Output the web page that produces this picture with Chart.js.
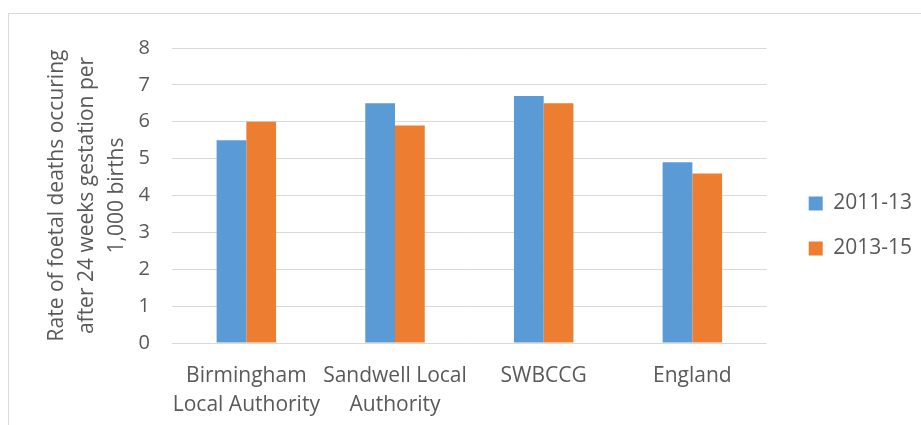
<!DOCTYPE html>
<html>
<head>
<meta charset="utf-8">
<script src="https://cdn.jsdelivr.net/npm/chart.js@4/dist/chart.umd.min.js"></script>
<style>
    html, body { margin: 0; padding: 0; background: #fff; }
    #frame {
        position: absolute; left: 8px; top: 13px; width: 913px; height: 412px;
        border-top: 1px solid #d9d9d9; border-left: 1px solid #d9d9d9; box-sizing: border-box;
    }
    #wrap { position: absolute; left: 9px; top: 14px; width: 912px; height: 411px; }
</style>
</head>
<body>
<div id="frame"></div>
<div id="wrap"><canvas id="chart"></canvas></div>
<script>
// Chart data
const categories = [['Birmingham', 'Local Authority'], ['Sandwell Local', 'Authority'], 'SWBCCG', 'England'];
const seriesNames = ['2011-13', '2013-15'];
const rates2011 = [5.5, 6.5, 6.7, 4.9];
const rates2013 = [6.0, 5.9, 6.5, 4.6];
const yMin = 0;
const yMax = 8;
const yStep = 1;
const yTitle = ['Rate of foetal deaths occuring', 'after 24 weeks gestation per', '1,000 births'];

const textColor = '#595959';
const gridColor = '#d9d9d9';
const fontFamily = '"Open Sans", sans-serif';

// Excel leaves a wider gap between plot and legend than Chart.js does,
// so nudge the legend box after layout
const legendNudge = {
    id: 'legendNudge',
    afterLayout(chart) {
        const lg = chart.legend;
        if (!lg) return;
        const dx = 18, dy = -8;
        lg.left += dx; lg.right += dx;
        lg.top += dy; lg.bottom += dy;
    }
};

const ctx = document.getElementById('chart').getContext('2d');

new Chart(ctx, {
    type: 'bar',
    data: {
        labels: categories,
        datasets: [{
            label: seriesNames[0],
            data: rates2011,
            backgroundColor: '#5b9bd5',
            categoryPercentage: 0.4,
            barPercentage: 1.0
        }, {
            label: seriesNames[1],
            data: rates2013,
            backgroundColor: '#ed7d31',
            categoryPercentage: 0.4,
            barPercentage: 1.0
        }]
    },
    options: {
        responsive: true,
        maintainAspectRatio: false,
        animation: false,
        layout: {
            padding: { top: 29, right: 17, bottom: 0, left: 0 }
        },
        plugins: {
            legend: {
                position: 'right',
                align: 'center',
                labels: {
                    boxWidth: 14,
                    boxHeight: 14,
                    padding: 24,
                    color: textColor,
                    font: { family: fontFamily, size: 21 }
                }
            },
            tooltip: { enabled: false }
        },
        scales: {
            x: {
                grid: { display: false },
                border: { display: false },
                ticks: {
                    color: textColor,
                    padding: 11,
                    maxRotation: 0,
                    autoSkip: false,
                    font: { family: fontFamily, size: 21, lineHeight: 1.38 }
                },
                afterFit: (scale) => { scale.height = 82; }
            },
            y: {
                min: yMin,
                max: yMax,
                grid: { color: gridColor, lineWidth: 1, drawTicks: false },
                border: { display: false },
                ticks: {
                    stepSize: yStep,
                    color: textColor,
                    padding: 22,
                    font: { family: fontFamily, size: 20 }
                },
                title: {
                    display: true,
                    text: yTitle,
                    color: textColor,
                    padding: { top: 33, bottom: 0 },
                    font: { family: fontFamily, size: 21, lineHeight: 1.43 }
                },
                afterFit: (scale) => { scale.width = 163; }
            }
        }
    },
    plugins: [legendNudge]
});
</script>
</body>
</html>
